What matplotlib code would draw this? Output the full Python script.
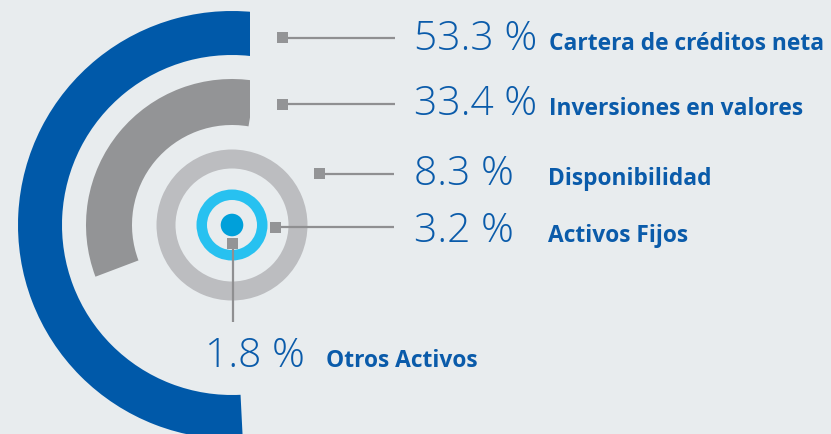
import matplotlib
matplotlib.use("Agg")
import matplotlib.pyplot as plt
from matplotlib.patches import Wedge, Circle, Rectangle

# ---- data ----
categories = ["Cartera de créditos neta", "Inversiones en valores", "Disponibilidad",
              "Activos Fijos", "Otros Activos"]
values = [53.3, 33.4, 8.3, 3.2, 1.8]

# ---- style ----
W, H = 831, 434
BG = "#E8ECEE"
BLUE = "#0059A9"
GRAY = "#939496"
LGRAY = "#BCBDC0"
CYAN = "#27C1F0"
DOT = "#00A0DA"
LINE = "#8F8F91"
TXT = "#0A5BAA"

fig = plt.figure(figsize=(W / 100, H / 100), dpi=100, facecolor=BG)
ax = fig.add_axes([0, 0, 1, 1])
ax.set_xlim(0, W)
ax.set_ylim(0, H)
ax.axis("off")
ax.set_facecolor(BG)

def Y(p):
    return H - p

cx, cy = 232, Y(225)
clip = Rectangle((0, 0), 250, H, transform=ax.transData)

# proportional arcs
arc_specs = [  # (value index, outer r, width, color, start angle)
    (0, 214, 44, BLUE, 81.0),
    (1, 146, 46, GRAY, 80.5),
]
for idx, r, w, col, start in arc_specs:
    wd = Wedge((cx, cy), r, start, start + values[idx] * 3.6, width=w,
               facecolor=col, edgecolor="none")
    ax.add_patch(wd)
    wd.set_clip_path(clip)

# full rings
ax.add_patch(Wedge((cx, cy), 75.5, 0, 360, width=19, facecolor=LGRAY, edgecolor="none"))
ax.add_patch(Wedge((cx, cy), 35.5, 0, 360, width=10.5, facecolor=CYAN, edgecolor="none"))
ax.add_patch(Circle((cx, cy), 11.3, facecolor=DOT, edgecolor="none"))

# leader lines (pixel coords)
lw = 1.6
sq = 11
leaders = [  # square center x, y, line end x (horizontal)
    (282, 37.5, 395),
    (282, 104, 395),
    (319, 173.7, 394),
    (275.5, 227, 394),
]
for x, y, xe in leaders:
    ax.plot([x, xe], [Y(y), Y(y)], color=LINE, lw=lw, solid_capstyle="butt", zorder=3)
    ax.add_patch(Rectangle((x - sq / 2, Y(y) - sq / 2), sq, sq, facecolor=GRAY,
                           edgecolor="none", zorder=4))
# vertical leader for last item
ax.plot([232.8, 232.8], [Y(243), Y(322)], color=LINE, lw=lw, solid_capstyle="butt", zorder=3)
ax.add_patch(Rectangle((232.8 - sq / 2, Y(243.3) - sq / 2), sq, sq, facecolor=GRAY,
                       edgecolor="none", zorder=4))

# texts
pct_font = dict(family=["Open Sans", "DejaVu Sans"], weight="light", size=29.3, color=TXT)
lab_font = dict(family=["Open Sans", "DejaVu Sans"], weight="bold", size=16.4, color=TXT)
text_pos = [  # pct x, label x, baseline y
    (414, 549, 49.5),
    (414, 549, 115),
    (414, 548, 185),
    (414, 548, 241.7),
    (205, 326, 366.7),
]
for (px, lx, by), cat, v in zip(text_pos, categories, values):
    ax.text(px, Y(by), f"{v:.1f} %", ha="left", va="baseline", **pct_font)
    ax.text(lx, Y(by), cat, ha="left", va="baseline", **lab_font)

fig.savefig("out.png", dpi=100, facecolor=BG)
